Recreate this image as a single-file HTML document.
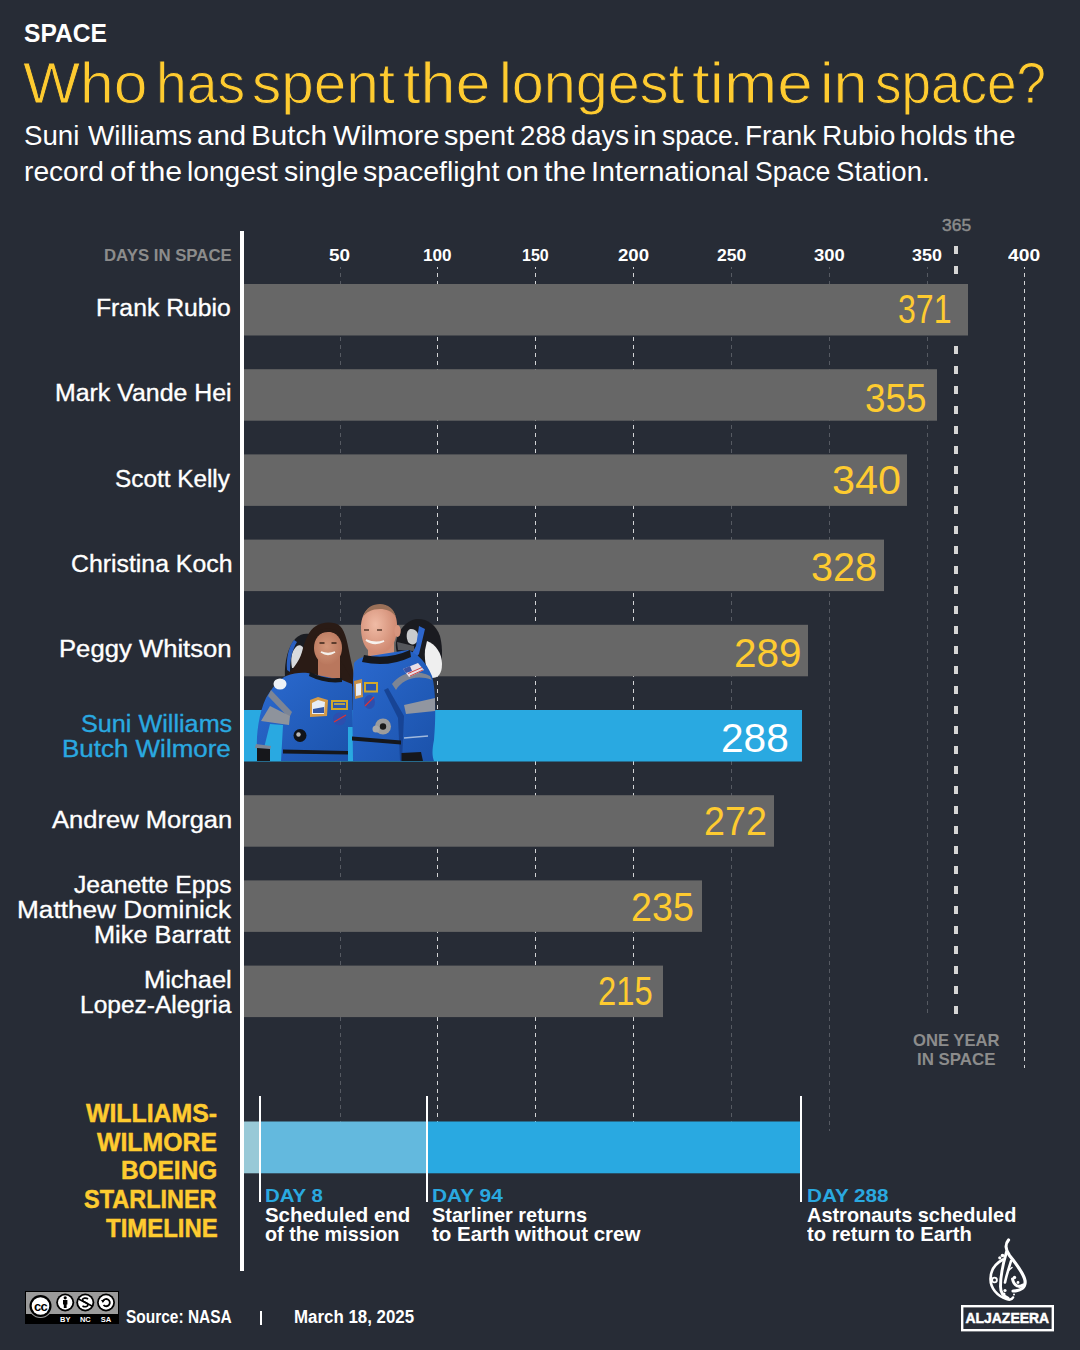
<!DOCTYPE html>
<html><head><meta charset="utf-8"><style>
html,body{margin:0;padding:0}
body{width:1080px;height:1350px;background:#272c36;position:relative;overflow:hidden;font-family:"Liberation Sans",sans-serif}
.t{position:absolute;white-space:nowrap;transform-origin:0 0}
.r{position:absolute}
</style></head><body>
<svg class="r" style="left:0;top:0" width="1080" height="1350">
<line x1="340.5" y1="267" x2="340.5" y2="1122" stroke="#ffffff" stroke-opacity="0.22" stroke-width="1" stroke-dasharray="4 4" stroke-dashoffset="2"/>
<line x1="437.5" y1="267" x2="437.5" y2="1122" stroke="#ffffff" stroke-opacity="0.8" stroke-width="1" stroke-dasharray="4 4" stroke-dashoffset="2"/>
<line x1="535.5" y1="267" x2="535.5" y2="1122" stroke="#ffffff" stroke-opacity="0.8" stroke-width="1" stroke-dasharray="4 4" stroke-dashoffset="2"/>
<line x1="633.5" y1="267" x2="633.5" y2="1122" stroke="#ffffff" stroke-opacity="0.8" stroke-width="1" stroke-dasharray="4 4" stroke-dashoffset="2"/>
<line x1="731.5" y1="267" x2="731.5" y2="1122" stroke="#ffffff" stroke-opacity="0.22" stroke-width="1" stroke-dasharray="4 4" stroke-dashoffset="2"/>
<line x1="829.5" y1="267" x2="829.5" y2="1131" stroke="#ffffff" stroke-opacity="0.22" stroke-width="1" stroke-dasharray="4 4" stroke-dashoffset="2"/>
<line x1="927.5" y1="267" x2="927.5" y2="1017" stroke="#ffffff" stroke-opacity="0.22" stroke-width="1" stroke-dasharray="4 4" stroke-dashoffset="2"/>
<line x1="1024.5" y1="267" x2="1024.5" y2="1068" stroke="#ffffff" stroke-opacity="0.8" stroke-width="1" stroke-dasharray="4 4" stroke-dashoffset="2"/>
<line x1="956" y1="246" x2="956" y2="1014" stroke="#d6d6d6" stroke-width="4" stroke-dasharray="8 12"/>
</svg>
<svg class="r" style="left:0;top:0" width="1080" height="1350">
<rect x="244" y="284.00" width="724" height="51.5" fill="#676767"/>
<rect x="244" y="369.20" width="693" height="51.5" fill="#676767"/>
<rect x="244" y="454.40" width="663" height="51.5" fill="#676767"/>
<rect x="244" y="539.60" width="640" height="51.5" fill="#676767"/>
<rect x="244" y="624.80" width="564" height="51.5" fill="#676767"/>
<rect x="244" y="710.00" width="558" height="51.5" fill="#29a9e1"/>
<rect x="244" y="795.20" width="530" height="51.5" fill="#676767"/>
<rect x="244" y="880.40" width="458" height="51.5" fill="#676767"/>
<rect x="244" y="965.60" width="419" height="51.5" fill="#676767"/>
</svg>
<div class="r" style="left:240px;top:231px;width:4px;height:1040px;background:#fff"></div>
<svg class="r" style="left:0;top:0" width="1080" height="1350" viewBox="0 0 1080 1350">
<defs><clipPath id="pc"><rect x="240" y="590" width="220" height="171.5"/></clipPath>
<linearGradient id="su" x1="0" y1="0" x2="1" y2="1"><stop offset="0" stop-color="#2b6ad0"/><stop offset="1" stop-color="#1b52aa"/></linearGradient>
<radialGradient id="sk1" cx="0.45" cy="0.45" r="0.6"><stop offset="0" stop-color="#d4977a"/><stop offset="1" stop-color="#b8765c"/></radialGradient>
<radialGradient id="sk2" cx="0.4" cy="0.4" r="0.6"><stop offset="0" stop-color="#f0bba5"/><stop offset="1" stop-color="#d08a72"/></radialGradient>
</defs>
<g clip-path="url(#pc)">
<!-- Suni helmet -->
<path d="M285 678 C284 662 288 646 296 638 C300 634 305 633 310 634 L314 680 Z" fill="#1a1c22"/>
<path d="M292 668 C290 658 292 650 297 646 C300 644 303 646 304 650 L305 668 Z" fill="#d8dadd"/>
<path d="M287 670 C286 658 289 646 294 640 L297 642 C292 650 290 660 290 672 Z" fill="#2a5fc0"/>
<!-- Butch helmet -->
<path d="M396 642 C398 630 406 621 416 619 C426 618 436 624 440 636 C443 648 443 664 438 674 C434 680 426 680 420 676 L404 664 C398 658 395 650 396 642 Z" fill="#1a1b20"/>
<path d="M427 641 C436 644 442 654 442 664 C442 674 438 678 432 678 C427 672 424 662 425 650 Z" fill="#efefef"/>
<path d="M410 629 C416 628 420 634 418 640 C416 645 411 646 408 642 C406 637 406 631 410 629 Z" fill="#c9cbce"/>
<path d="M419 626 L425 629 L419 654 L414 660 L410 657 L416 646 Z" fill="#2d66cc"/>
<path d="M397 642 L414 646 L414 651 L398 650 Z" fill="#55575c"/>
<!-- Suni hair -->
<path d="M285 677 C292 670 299 662 302 652 C305 640 309 630 316 626 C322 622 334 621 340 626 C346 632 348 646 350 656 C352 666 355 674 354 686 L340 690 L320 684 Z" fill="#2a1b15"/>
<!-- Suni face & neck -->
<rect x="318" y="656" width="22" height="22" fill="#b9775d"/>
<ellipse cx="328" cy="648" rx="14" ry="16.5" fill="url(#sk1)"/>
<path d="M314 640 C316 630 322 628 328 629 C334 628 341 631 343 640 C340 634 334 632 328 632 C322 632 316 635 314 640 Z" fill="#2a1b15"/>
<path d="M321 652 Q328 657 335 652 Q328 655 321 652 Z" fill="#fff" stroke="#f4f0ea" stroke-width="1.5"/>
<path d="M319.5 643 h5 M331.5 643 h5" stroke="#3a2418" stroke-width="1.6"/>
<path d="M340 660 C346 668 350 676 354 686 L342 686 Z" fill="#2a1b15"/>
<!-- Suni suit -->
<path d="M286 676 C296 672 306 672 312 674 L342 680 L352 684 L353 727 L348 727 L348 761 L281 761 L283 725 L270 724 L264 748 L257 748 C256 735 259 712 266 698 C272 688 278 680 286 676 Z" fill="url(#su)"/>
<path d="M310 672 Q325 680 342 678 L342 682 Q325 684 309 676 Z" fill="#16181d"/>
<path d="M271 690 L292 712 L289 718 L268 696 Z" fill="#7c8595"/>
<path d="M261 721 L270 706 L290 716 L289 725 Z" fill="#8e939c"/>
<path d="M256 744 L271 746 L270 750 L255 748 Z" fill="#7c8595"/>
<path d="M257 748 L270 749 L270 761 L257 761 Z" fill="#16171b"/>
<ellipse cx="280" cy="684" rx="6.5" ry="5.5" fill="#eef2f7"/>
<path d="M310 700 L318 697 L328 700 L327 716 L310 717 Z" fill="#d49a48"/>
<path d="M312 703 L318 700 L325 702 L324 714 L312 714 Z" fill="#e7edf6"/>
<path d="M313 709 L324 707 L324 713 L313 713 Z" fill="#3358a8"/>
<rect x="331" y="700" width="17" height="10" fill="#d2a82a"/><rect x="333" y="702" width="13" height="6" fill="#2a57b0"/>
<path d="M334 704 h11" stroke="#e0b830" stroke-width="1.5"/>
<circle cx="339.5" cy="719" r="6.5" fill="#2d4fae"/><path d="M334 722 L346 715" stroke="#d33" stroke-width="1.2"/>
<circle cx="300" cy="735.5" r="6.5" fill="#111318"/><circle cx="298.5" cy="734.5" r="2.2" fill="#b8b8b8"/>
<path d="M283 749.5 L348 751 L348 754.5 L283 753.5 Z" fill="#15171c"/>
<!-- Butch head -->
<path d="M368 640 L394 640 L394 658 L368 658 Z" fill="#cf8f77"/>
<path d="M361 628 C361 614 368 605 379 605 C391 605 398 614 397 628 C397 642 390 654 377 654 C367 654 361 642 361 628 Z" fill="url(#sk2)"/>
<path d="M363 617 C366 607 373 604 380 604 C388 604 394 609 396 617 C392 611 386 609 380 609 C372 609 366 612 363 617 Z" fill="#9a7058"/>
<ellipse cx="397.5" cy="631" rx="3.2" ry="6" fill="#d8957e"/>
<path d="M366 640 Q374 646 384 641 Q375 644 366 640 Z" fill="#fff" stroke="#f6f2ee" stroke-width="1.8"/>
<path d="M364 630 h5 M377 630 h5" stroke="#5a3a2c" stroke-width="1.5"/>
<!-- Butch suit -->
<path d="M354 663 C358 658 364 656 370 656 L408 650 C418 654 426 662 432 676 C436 690 436 720 434 740 C432 750 432 756 434 761 L353 761 L352.5 727 L353 680 Z" fill="url(#su)"/>
<path d="M364 655 Q388 660 410 650 L411 657 Q388 668 362 662 Z" fill="#16181d"/>
<path d="M388 688 L404 716 L402 761 L400 761 L398 718 L384 690 Z" fill="#174495"/>
<path d="M392 684 C400 674 414 668 430 676 L432 680 C416 674 402 680 396 690 Z" fill="#7d8594"/>
<path d="M404 705 L435 698 L435 711 L406 714 Z" fill="#9196a0"/>
<path d="M403 669 L418 663 L424 670 L409 677 Z" fill="#e8dfe6"/>
<path d="M403 669 L410 666 L412 671 L406 673 Z" fill="#3b55a6"/>
<path d="M408 673.5 L422 667.5 M410 676 L423 670" stroke="#d04848" stroke-width="1"/>
<path d="M354 681 L362 679 L363 697 L355 699 Z" fill="#c78f46"/>
<path d="M356 684 L361 683 L361 695 L356 696 Z" fill="#e8eef6"/>
<rect x="364" y="682" width="14" height="10.5" fill="#d2a82a"/><rect x="366" y="684" width="10" height="6.5" fill="#2a57b0"/>
<ellipse cx="369.5" cy="702" rx="5.5" ry="7" fill="#2d4fae"/><path d="M365 706 L374 697" stroke="#d33" stroke-width="1.2"/>
<circle cx="383" cy="726.5" r="8" fill="#9c9c9c"/><circle cx="376" cy="729" r="3.5" fill="#a8a8a8"/><circle cx="383" cy="726.5" r="3.2" fill="#1b1b1b"/>
<path d="M352 736.5 L401 740.5 L401 744.5 L352 740.5 Z" fill="#15171c"/>
<path d="M401.5 753 L421 752 L423 761 L401.5 761 Z" fill="#16171b"/>
<path d="M404 738 L428 736" stroke="#d8e3f0" stroke-width="1.3" opacity="0.7"/>
</g>
</svg>

<svg class="r" style="left:0;top:0" width="1080" height="1350">
<rect x="244" y="1121.5" width="15" height="51.8" fill="#98c9d7"/>
<rect x="259" y="1121.5" width="168" height="51.8" fill="#63b9de"/>
<rect x="427" y="1121.5" width="373" height="51.8" fill="#29a9e1"/>
</svg>
<div class="r" style="left:259px;top:1096px;width:2px;height:106px;background:#fff"></div>
<div class="r" style="left:426px;top:1096px;width:2px;height:106px;background:#fff"></div>
<div class="r" style="left:800px;top:1096px;width:2px;height:106px;background:#fff"></div>
<div class="r" style="left:260px;top:1310.5px;width:2px;height:14.5px;background:#fff"></div>
<svg class="r" style="left:0;top:0" width="140" height="1350" viewBox="0 0 140 1350">
<rect x="25" y="1291" width="94" height="33" fill="#000"/>
<rect x="26" y="1292" width="92" height="22" fill="#9b9b9b"/>
<circle cx="40.5" cy="1306" r="12" fill="#9b9b9b"/>
<circle cx="40.5" cy="1306" r="11" fill="#000"/>
<circle cx="40.5" cy="1306" r="8.8" fill="#fff"/>
<text x="40.5" y="1310.5" text-anchor="middle" font-family="Liberation Sans" font-weight="bold" font-size="13" fill="#000" letter-spacing="-0.8">cc</text>
<circle cx="65.2" cy="1302.5" r="9" fill="#000"/><circle cx="65.2" cy="1302.5" r="7.2" fill="#fff"/>
<circle cx="65.2" cy="1297.8" r="1.6" fill="#000"/><rect x="63" y="1300" width="4.4" height="4.5" fill="#000"/><rect x="63.8" y="1303" width="2.8" height="5" fill="#000"/>
<circle cx="85.3" cy="1302.5" r="9" fill="#000"/><circle cx="85.3" cy="1302.5" r="7.2" fill="#fff"/>
<path d="M88 1299 C86 1297.5 82.5 1298 82.5 1300 C82.5 1302.5 88 1302 88 1304.8 C88 1307 84.5 1307.2 82.5 1306" stroke="#000" stroke-width="1.7" fill="none"/>
<path d="M78.5 1299 L92 1306" stroke="#000" stroke-width="1.6"/>
<circle cx="106" cy="1302.5" r="9" fill="#000"/><circle cx="106" cy="1302.5" r="7.2" fill="#fff"/>
<path d="M102.8 1301.5 A3.6 3.6 0 1 1 103.5 1305" stroke="#000" stroke-width="1.8" fill="none"/>
<path d="M101 1300 L104.8 1300 L102.9 1303 Z" fill="#000"/>
<text x="65.2" y="1322" text-anchor="middle" font-family="Liberation Sans" font-weight="bold" font-size="7.5" fill="#fff">BY</text>
<text x="85.3" y="1322" text-anchor="middle" font-family="Liberation Sans" font-weight="bold" font-size="7.5" fill="#fff">NC</text>
<text x="106" y="1322" text-anchor="middle" font-family="Liberation Sans" font-weight="bold" font-size="7.5" fill="#fff">SA</text>
</svg>

<svg class="r" style="left:940px;top:1230px" width="130" height="110" viewBox="940 1230 130 110">
<rect x="962.2" y="1306.2" width="90.6" height="24" fill="none" stroke="#fff" stroke-width="2.4"/>
<text x="1007.3" y="1323" text-anchor="middle" font-family="Liberation Sans" font-weight="bold" font-size="15" fill="#fff" stroke="#fff" stroke-width="0.5" transform="translate(1007.3 0) scale(0.93 1) translate(-1007.3 0)">ALJAZEERA</text>
<g fill="none" stroke="#fff" stroke-linecap="round">
<path d="M1008.5 1240 C1005 1244 1005.5 1250 1009.5 1255.5 C1016 1263.5 1023.5 1273 1025 1280.5 C1026 1287.5 1021 1291 1013 1291" stroke-width="3.2"/>
<path d="M1003 1259.5 C995.5 1263.5 990.5 1270 990.5 1279 C990.5 1288 997 1296 1006.5 1299 C1009.5 1300 1012 1299.5 1013 1297.5" stroke-width="2.6"/>
<path d="M1006.5 1252 C1003.5 1262 1000.5 1275 1000.5 1286.5 C1000.5 1292.5 1004 1296.5 1008 1298" stroke-width="2.9"/>
<path d="M1011 1261 C1009 1268 1006.5 1275 1005 1282.5" stroke-width="2.6"/>
<path d="M1012.5 1279 C1014 1286 1019 1288 1023 1285" stroke-width="3"/>
<circle cx="994.5" cy="1280" r="2.4" stroke-width="1.8"/>
<path d="M1008 1271 L1012 1267.5" stroke-width="1.5"/>
</g>
<g fill="#fff">
<circle cx="1002.5" cy="1255.5" r="1.8"/><circle cx="999.8" cy="1257.8" r="1.6"/>
<circle cx="1005" cy="1290.5" r="1.6"/><circle cx="1004" cy="1294" r="1.5"/>
<circle cx="1014.5" cy="1277.5" r="1.7"/><circle cx="1018" cy="1282.5" r="1.4"/><circle cx="1014" cy="1294.5" r="1"/>
</g>
</svg>

<div class="t" style="left:24.06px;top:20.00px;font-size:26.09px;line-height:26.09px;color:#ffffff;font-weight:bold;transform:scaleX(0.9419)">SPACE</div>
<div class="t" style="left:23.00px;top:55.50px;font-size:56.52px;line-height:56.52px;color:#fecb30;-webkit-text-stroke:0.9px #272c36;paint-order:normal;transform:scaleX(1.0702)">Who</div>
<div class="t" style="left:156.09px;top:55.50px;font-size:56.52px;line-height:56.52px;color:#fecb30;-webkit-text-stroke:0.9px #272c36;paint-order:normal;transform:scaleX(0.9765)">has</div>
<div class="t" style="left:251.93px;top:55.50px;font-size:56.52px;line-height:56.52px;color:#fecb30;-webkit-text-stroke:0.9px #272c36;paint-order:normal;transform:scaleX(1.0346)">spent</div>
<div class="t" style="left:403.29px;top:55.50px;font-size:56.52px;line-height:56.52px;color:#fecb30;-webkit-text-stroke:0.9px #272c36;paint-order:normal;transform:scaleX(1.1133)">the</div>
<div class="t" style="left:498.73px;top:55.50px;font-size:56.52px;line-height:56.52px;color:#fecb30;-webkit-text-stroke:0.9px #272c36;paint-order:normal;transform:scaleX(1.0174)">longest</div>
<div class="t" style="left:692.47px;top:55.50px;font-size:56.52px;line-height:56.52px;color:#fecb30;-webkit-text-stroke:0.9px #272c36;paint-order:normal;transform:scaleX(1.1301)">time</div>
<div class="t" style="left:819.97px;top:55.50px;font-size:56.52px;line-height:56.52px;color:#fecb30;-webkit-text-stroke:0.9px #272c36;paint-order:normal;transform:scaleX(1.0833)">in</div>
<div class="t" style="left:875.12px;top:55.50px;font-size:56.52px;line-height:56.52px;color:#fecb30;-webkit-text-stroke:0.9px #272c36;paint-order:normal;transform:scaleX(0.9382)">space?</div>
<div class="t" style="left:23.99px;top:122.00px;font-size:27.54px;line-height:27.54px;color:#ffffff;transform:scaleX(1.0057)">Suni</div>
<div class="t" style="left:87.50px;top:122.00px;font-size:27.54px;line-height:27.54px;color:#ffffff;transform:scaleX(1.0147)">Williams</div>
<div class="t" style="left:196.93px;top:122.00px;font-size:27.54px;line-height:27.54px;color:#ffffff;transform:scaleX(1.0698)">and</div>
<div class="t" style="left:250.54px;top:122.00px;font-size:27.54px;line-height:27.54px;color:#ffffff;transform:scaleX(1.0791)">Butch</div>
<div class="t" style="left:332.50px;top:122.00px;font-size:27.54px;line-height:27.54px;color:#ffffff;transform:scaleX(1.0550)">Wilmore</div>
<div class="t" style="left:443.66px;top:122.00px;font-size:27.54px;line-height:27.54px;color:#ffffff;transform:scaleX(1.0409)">spent</div>
<div class="t" style="left:519.69px;top:122.00px;font-size:27.54px;line-height:27.54px;color:#ffffff;transform:scaleX(1.0068)">288</div>
<div class="t" style="left:571.40px;top:122.00px;font-size:27.54px;line-height:27.54px;color:#ffffff;transform:scaleX(0.9982)">days</div>
<div class="t" style="left:632.78px;top:122.00px;font-size:27.54px;line-height:27.54px;color:#ffffff;transform:scaleX(1.1111)">in</div>
<div class="t" style="left:661.54px;top:122.00px;font-size:27.54px;line-height:27.54px;color:#ffffff;transform:scaleX(0.9615)">space.</div>
<div class="t" style="left:744.98px;top:122.00px;font-size:27.54px;line-height:27.54px;color:#ffffff;transform:scaleX(1.0118)">Frank</div>
<div class="t" style="left:821.66px;top:122.00px;font-size:27.54px;line-height:27.54px;color:#ffffff;transform:scaleX(1.0217)">Rubio</div>
<div class="t" style="left:899.95px;top:122.00px;font-size:27.54px;line-height:27.54px;color:#ffffff;transform:scaleX(1.0270)">holds</div>
<div class="t" style="left:974.20px;top:122.00px;font-size:27.54px;line-height:27.54px;color:#ffffff;transform:scaleX(1.0892)">the</div>
<div class="t" style="left:24.25px;top:158.00px;font-size:27.54px;line-height:27.54px;color:#ffffff;transform:scaleX(1.0227)">record</div>
<div class="t" style="left:109.72px;top:158.00px;font-size:27.54px;line-height:27.54px;color:#ffffff;transform:scaleX(1.0773)">of</div>
<div class="t" style="left:139.80px;top:158.00px;font-size:27.54px;line-height:27.54px;color:#ffffff;transform:scaleX(1.1000)">the</div>
<div class="t" style="left:187.36px;top:158.00px;font-size:27.54px;line-height:27.54px;color:#ffffff;transform:scaleX(1.0218)">longest</div>
<div class="t" style="left:283.97px;top:158.00px;font-size:27.54px;line-height:27.54px;color:#ffffff;transform:scaleX(1.0329)">single</div>
<div class="t" style="left:363.26px;top:158.00px;font-size:27.54px;line-height:27.54px;color:#ffffff;transform:scaleX(1.0359)">spaceflight</div>
<div class="t" style="left:505.93px;top:158.00px;font-size:27.54px;line-height:27.54px;color:#ffffff;transform:scaleX(1.0714)">on</div>
<div class="t" style="left:544.30px;top:158.00px;font-size:27.54px;line-height:27.54px;color:#ffffff;transform:scaleX(1.1000)">the</div>
<div class="t" style="left:591.22px;top:158.00px;font-size:27.54px;line-height:27.54px;color:#ffffff;transform:scaleX(1.0419)">International</div>
<div class="t" style="left:754.83px;top:158.00px;font-size:27.54px;line-height:27.54px;color:#ffffff;transform:scaleX(0.9658)">Space</div>
<div class="t" style="left:835.70px;top:158.00px;font-size:27.54px;line-height:27.54px;color:#ffffff;transform:scaleX(1.0033)">Station.</div>
<div class="t" style="left:104.03px;top:247.00px;font-size:17.39px;line-height:17.39px;color:#8c8c8c;font-weight:bold;transform:scaleX(0.9656)">DAYS IN SPACE</div>
<div class="t" style="left:328.86px;top:248.25px;font-size:16.67px;line-height:16.67px;color:#ffffff;font-weight:bold;transform:scaleX(1.1353)">50</div>
<div class="t" style="left:423.37px;top:248.25px;font-size:16.67px;line-height:16.67px;color:#ffffff;font-weight:bold;transform:scaleX(1.0269)">100</div>
<div class="t" style="left:522.24px;top:248.25px;font-size:16.67px;line-height:16.67px;color:#ffffff;font-weight:bold;transform:scaleX(0.9615)">150</div>
<div class="t" style="left:618.00px;top:248.25px;font-size:16.67px;line-height:16.67px;color:#ffffff;font-weight:bold;transform:scaleX(1.1185)">200</div>
<div class="t" style="left:716.70px;top:248.25px;font-size:16.67px;line-height:16.67px;color:#ffffff;font-weight:bold;transform:scaleX(1.0519)">250</div>
<div class="t" style="left:813.90px;top:248.25px;font-size:16.67px;line-height:16.67px;color:#ffffff;font-weight:bold;transform:scaleX(1.1074)">300</div>
<div class="t" style="left:912.00px;top:248.25px;font-size:16.67px;line-height:16.67px;color:#ffffff;font-weight:bold;transform:scaleX(1.0741)">350</div>
<div class="t" style="left:1008.00px;top:248.25px;font-size:16.67px;line-height:16.67px;color:#ffffff;font-weight:bold;transform:scaleX(1.1556)">400</div>
<div class="t" style="left:941.50px;top:218.15px;font-size:16.96px;line-height:16.96px;color:#8c8c8c;-webkit-text-stroke:0.45px #8c8c8c;transform:scaleX(1.0286)">365</div>
<div class="t" style="left:96.29px;top:296.00px;font-size:24.64px;line-height:24.64px;color:#ffffff;-webkit-text-stroke:0.35px #ffffff;transform:scaleX(1.0053)">Frank Rubio</div>
<div class="t" style="left:55.08px;top:381.00px;font-size:24.64px;line-height:24.64px;color:#ffffff;-webkit-text-stroke:0.35px #ffffff;transform:scaleX(1.0110)">Mark Vande Hei</div>
<div class="t" style="left:115.41px;top:467.00px;font-size:24.64px;line-height:24.64px;color:#ffffff;-webkit-text-stroke:0.35px #ffffff;transform:scaleX(0.9879)">Scott Kelly</div>
<div class="t" style="left:70.69px;top:552.00px;font-size:24.64px;line-height:24.64px;color:#ffffff;-webkit-text-stroke:0.35px #ffffff;transform:scaleX(1.0082)">Christina Koch</div>
<div class="t" style="left:59.02px;top:637.00px;font-size:24.64px;line-height:24.64px;color:#ffffff;-webkit-text-stroke:0.35px #ffffff;transform:scaleX(1.0423)">Peggy Whitson</div>
<div class="t" style="left:80.58px;top:712.00px;font-size:24.64px;line-height:24.64px;color:#2aa9e0;-webkit-text-stroke:0.35px #2aa9e0;transform:scaleX(1.0233)">Suni Williams</div>
<div class="t" style="left:62.29px;top:737.00px;font-size:24.64px;line-height:24.64px;color:#2aa9e0;-webkit-text-stroke:0.35px #2aa9e0;transform:scaleX(1.0544)">Butch Wilmore</div>
<div class="t" style="left:51.60px;top:808.00px;font-size:24.64px;line-height:24.64px;color:#ffffff;-webkit-text-stroke:0.35px #ffffff;transform:scaleX(1.0370)">Andrew Morgan</div>
<div class="t" style="left:74.00px;top:873.00px;font-size:24.64px;line-height:24.64px;color:#ffffff;-webkit-text-stroke:0.35px #ffffff;transform:scaleX(1.0000)">Jeanette Epps</div>
<div class="t" style="left:17.17px;top:898.00px;font-size:24.64px;line-height:24.64px;color:#ffffff;-webkit-text-stroke:0.35px #ffffff;transform:scaleX(1.0638)">Matthew Dominick</div>
<div class="t" style="left:94.14px;top:923.00px;font-size:24.64px;line-height:24.64px;color:#ffffff;-webkit-text-stroke:0.35px #ffffff;transform:scaleX(1.0290)">Mike Barratt</div>
<div class="t" style="left:144.13px;top:968.00px;font-size:24.64px;line-height:24.64px;color:#ffffff;-webkit-text-stroke:0.35px #ffffff;transform:scaleX(1.0341)">Michael</div>
<div class="t" style="left:79.61px;top:993.00px;font-size:24.64px;line-height:24.64px;color:#ffffff;-webkit-text-stroke:0.35px #ffffff;transform:scaleX(0.9960)">Lopez-Alegria</div>
<div class="t" style="left:898.40px;top:289.40px;font-size:40.00px;line-height:40.00px;color:#fecb30;transform:scaleX(0.8016)">371</div>
<div class="t" style="left:864.56px;top:377.70px;font-size:40.00px;line-height:40.00px;color:#fecb30;transform:scaleX(0.9206)">355</div>
<div class="t" style="left:832.33px;top:460.40px;font-size:40.00px;line-height:40.00px;color:#fecb30;transform:scaleX(1.0333)">340</div>
<div class="t" style="left:811.02px;top:546.50px;font-size:40.00px;line-height:40.00px;color:#fecb30;transform:scaleX(0.9905)">328</div>
<div class="t" style="left:733.58px;top:632.60px;font-size:40.00px;line-height:40.00px;color:#fecb30;transform:scaleX(1.0111)">289</div>
<div class="t" style="left:720.77px;top:717.60px;font-size:40.00px;line-height:40.00px;color:#ffffff;transform:scaleX(1.0159)">288</div>
<div class="t" style="left:704.02px;top:801.30px;font-size:40.00px;line-height:40.00px;color:#fecb30;transform:scaleX(0.9413)">272</div>
<div class="t" style="left:630.82px;top:887.40px;font-size:40.00px;line-height:40.00px;color:#fecb30;transform:scaleX(0.9413)">235</div>
<div class="t" style="left:598.46px;top:971.30px;font-size:40.00px;line-height:40.00px;color:#fecb30;transform:scaleX(0.8190)">215</div>
<div class="t" style="left:912.82px;top:1033.15px;font-size:16.96px;line-height:16.96px;color:#8c8c8c;font-weight:bold;transform:scaleX(0.9816)">ONE YEAR</div>
<div class="t" style="left:917.00px;top:1052.15px;font-size:16.96px;line-height:16.96px;color:#8c8c8c;font-weight:bold;transform:scaleX(0.9961)">IN SPACE</div>
<div class="t" style="left:86.20px;top:1100.00px;font-size:26.09px;line-height:26.09px;color:#fecb30;font-weight:bold;-webkit-text-stroke:0.5px #fecb30;transform:scaleX(0.9526)">WILLIAMS-</div>
<div class="t" style="left:96.70px;top:1129.00px;font-size:26.09px;line-height:26.09px;color:#fecb30;font-weight:bold;-webkit-text-stroke:0.5px #fecb30;transform:scaleX(0.9524)">WILMORE</div>
<div class="t" style="left:121.26px;top:1156.50px;font-size:26.09px;line-height:26.09px;color:#fecb30;font-weight:bold;-webkit-text-stroke:0.5px #fecb30;transform:scaleX(0.9356)">BOEING</div>
<div class="t" style="left:84.40px;top:1186.00px;font-size:26.09px;line-height:26.09px;color:#fecb30;font-weight:bold;-webkit-text-stroke:0.5px #fecb30;transform:scaleX(0.9000)">STARLINER</div>
<div class="t" style="left:105.60px;top:1215.00px;font-size:26.09px;line-height:26.09px;color:#fecb30;font-weight:bold;-webkit-text-stroke:0.5px #fecb30;transform:scaleX(0.9182)">TIMELINE</div>
<div class="t" style="left:265.42px;top:1186.50px;font-size:18.84px;line-height:18.84px;color:#2aa9e0;font-weight:bold;transform:scaleX(1.0846)">DAY 8</div>
<div class="t" style="left:265.26px;top:1205.70px;font-size:19.71px;line-height:19.71px;color:#ffffff;font-weight:bold;transform:scaleX(1.0370)">Scheduled end</div>
<div class="t" style="left:265.29px;top:1225.20px;font-size:19.71px;line-height:19.71px;color:#ffffff;font-weight:bold;transform:scaleX(1.0076)">of the mission</div>
<div class="t" style="left:431.79px;top:1186.50px;font-size:18.84px;line-height:18.84px;color:#2aa9e0;font-weight:bold;transform:scaleX(1.1079)">DAY 94</div>
<div class="t" style="left:431.89px;top:1205.70px;font-size:19.71px;line-height:19.71px;color:#ffffff;font-weight:bold;transform:scaleX(1.0118)">Starliner returns</div>
<div class="t" style="left:432.20px;top:1225.20px;font-size:19.71px;line-height:19.71px;color:#ffffff;font-weight:bold;transform:scaleX(1.0410)">to Earth without crew</div>
<div class="t" style="left:806.60px;top:1186.50px;font-size:18.84px;line-height:18.84px;color:#2aa9e0;font-weight:bold;transform:scaleX(1.0973)">DAY 288</div>
<div class="t" style="left:807.30px;top:1205.70px;font-size:19.71px;line-height:19.71px;color:#ffffff;font-weight:bold;transform:scaleX(1.0126)">Astronauts scheduled</div>
<div class="t" style="left:807.30px;top:1225.20px;font-size:19.71px;line-height:19.71px;color:#ffffff;font-weight:bold;transform:scaleX(1.0256)">to return to Earth</div>
<div class="t" style="left:126.33px;top:1309.35px;font-size:17.83px;line-height:17.83px;color:#ffffff;font-weight:bold;transform:scaleX(0.8683)">Source: NASA</div>
<div class="t" style="left:293.55px;top:1309.35px;font-size:17.83px;line-height:17.83px;color:#ffffff;font-weight:bold;transform:scaleX(0.9464)">March 18, 2025</div>
</body></html>
